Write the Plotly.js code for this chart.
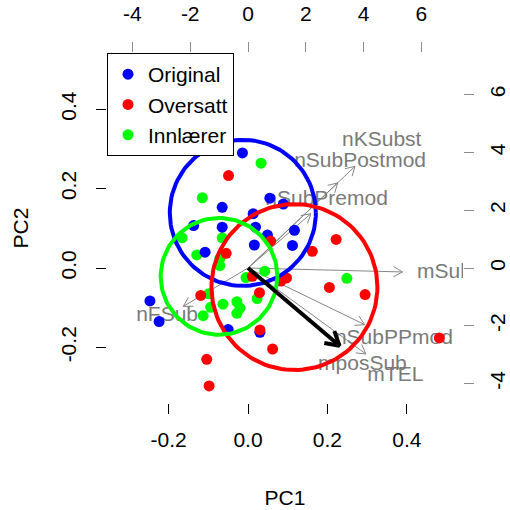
<!DOCTYPE html>
<html><head><meta charset="utf-8">
<script src="https://cdn.plot.ly/plotly-3.0.1.min.js"></script>
<style>html,body{margin:0;padding:0;background:#fff}#plot{width:510px;height:510px}</style>
</head><body><div id="plot"></div>
<script>
// PC scores per group
const origX = [-0.014,0.055,0.089,-0.065,0.013,-0.137,-0.065,0.019,0.117,0.049,0.016,0.112,-0.108,-0.247,-0.224,-0.050,0.030];
const origY = [0.290,0.176,0.161,0.153,0.137,0.107,0.103,0.103,0.095,0.083,0.058,0.057,0.040,-0.083,-0.135,-0.155,-0.162];
const overX = [-0.049,0.057,0.162,0.222,-0.055,0.011,0.083,0.097,0.205,0.295,0.029,-0.119,0.030,0.062,-0.104,-0.098,0.482];
const overY = [0.233,0.068,0.042,0.072,0.037,-0.021,-0.033,-0.025,-0.049,-0.067,-0.062,-0.069,-0.156,-0.204,-0.230,-0.297,-0.176];
const innX = [0.033,-0.115,-0.166,-0.065,-0.129,-0.071,-0.071,0.042,-0.005,0.249,-0.099,-0.094,-0.063,-0.028,-0.020,-0.028,0.023,-0.113];
const innY = [0.264,0.177,0.076,0.076,0.033,0.024,0.006,-0.008,-0.024,-0.026,-0.065,-0.099,-0.091,-0.085,-0.101,-0.114,-0.077,-0.120];

// group circles (PC units)
const circleNames = ['Original','Oversatt','Innlærer'];
const circleCX = [-0.013, 0.117, -0.073];
const circleCY = [0.139, -0.048, -0.021];
const circleR  = [0.184, 0.209, 0.147];

// variable loadings (top/right axis units)
const loadNames = ['nKSubst','nSubPostmod','nSubPremod','mSul','nSubPPmod','mposSub','mTEL','nFSub'];
const loadX = [4.63, 3.88, 2.72, 6.68, 5.05, 3.96, 5.10, -2.80];
const loadY = [4.40, 3.68, 2.35, -0.17, -2.45, -3.36, -3.72, -1.66];
const highlighted = 'mposSub';

// ticks
const pcTicks = [-0.2, 0, 0.2, 0.4];
const pcTickText = ['-0.2','0.0','0.2','0.4'];
const ldTicks = [-4, -2, 0, 2, 4, 6];
const ldTickText = ['-4','-2','0','2','4','6'];

const FONT = 'Liberation Sans, Arial, Helvetica, sans-serif';
const FS = 21;
const xr = [-0.3552, 0.5416];
const yr = [-0.3400, 0.5416];
const K = 13.74; // loading units per PC unit
const ARROW_FRAC = 0.8;

function arrowPath(x0,y0,x1,y1,hl){
  const a = Math.atan2(y1-y0, x1-x0);
  const d = Math.PI/6;
  return {
    x:[x0,x1,null, x1-hl*Math.cos(a-d), x1, x1-hl*Math.cos(a+d), null],
    y:[y0,y1,null, y1-hl*Math.sin(a-d), y1, y1-hl*Math.sin(a+d), null]
  };
}

const traces = [];
// gray loading arrows
let gx=[], gy=[];
for(let i=0;i<loadNames.length;i++){
  const p = arrowPath(0,0,ARROW_FRAC*loadX[i]/K, ARROW_FRAC*loadY[i]/K, 0.026);
  gx = gx.concat(p.x); gy = gy.concat(p.y);
}
traces.push({x:gx,y:gy,mode:'lines',line:{color:'#868686',width:1},showlegend:false,hoverinfo:'skip'});
traces.push({x:loadX.map(v=>v/K), y:loadY.map(v=>v/K), mode:'text', text:loadNames,
  textposition:'middle center', textfont:{family:FONT,size:FS,color:'#7a7a7a'}, cliponaxis:true,
  showlegend:false, hoverinfo:'skip'});

// points
traces.push({x:innX,y:innY,mode:'markers',name:'Innlærer',legendrank:3,marker:{color:'#00ff00',size:11},hoverinfo:'skip'});
traces.push({x:origX,y:origY,mode:'markers',name:'Original',legendrank:1,marker:{color:'#0000ff',size:11},hoverinfo:'skip'});
traces.push({x:overX,y:overY,mode:'markers',name:'Oversatt',legendrank:2,marker:{color:'#ff0000',size:11},hoverinfo:'skip'});

// circles
const circleCol = ['#0000ff','#ff0000','#00ff00'];
for(let c=0;c<circleNames.length;c++){
  const cx=[],cy=[];
  for(let k=0;k<=120;k++){const t=2*Math.PI*k/120; cx.push(circleCX[c]+circleR[c]*Math.cos(t)); cy.push(circleCY[c]+circleR[c]*Math.sin(t));}
  traces.push({x:cx,y:cy,mode:'lines',line:{color:circleCol[c],width:4},showlegend:false,hoverinfo:'skip'});
}

// black highlighted arrow
const hi = loadNames.indexOf(highlighted);
const bp = arrowPath(0,0,ARROW_FRAC*loadX[hi]/K, ARROW_FRAC*loadY[hi]/K, 0.039);
traces.push({x:bp.x,y:bp.y,mode:'lines',line:{color:'#000',width:4},showlegend:false,hoverinfo:'skip'});

// dummy trace to anchor the loading axes
traces.push({x:loadX,y:loadY,xaxis:'x2',yaxis:'y2',mode:'markers',marker:{opacity:0},showlegend:false,hoverinfo:'skip'});

const axBase = {showgrid:false,zeroline:false,showline:false,ticks:'outside',ticklen:10,tickwidth:1,
  tickfont:{family:FONT,size:FS,color:'#000'}};
const layout = {
  width:510,height:510,
  margin:{l:107,r:47,t:53,b:107},
  paper_bgcolor:'#fff',plot_bgcolor:'#fff',
  font:{family:FONT,size:FS,color:'#000'},
  showlegend:true,
  legend:{x:0,y:1,xanchor:'left',yanchor:'top',bgcolor:'#fff',bordercolor:'#000',borderwidth:1,
    font:{family:FONT,size:FS,color:'#000'},tracegroupgap:0},
  xaxis:Object.assign({},axBase,{range:xr,tickmode:'array',tickvals:pcTicks,ticktext:pcTickText,tickcolor:'#000',ticklabelstandoff:8,
    title:{text:'PC1',font:{family:FONT,size:FS},standoff:40}}),
  yaxis:Object.assign({},axBase,{range:yr,tickmode:'array',tickvals:pcTicks,ticktext:pcTickText,tickcolor:'#000',tickangle:-90,ticklabelstandoff:12,
    title:{text:'PC2',font:{family:FONT,size:FS},standoff:22}}),
  xaxis2:Object.assign({},axBase,{range:[xr[0]*K,xr[1]*K],overlaying:'x',side:'top',anchor:'y',tickmode:'array',tickvals:ldTicks,ticktext:ldTickText,tickcolor:'#8c8c8c',ticklabelstandoff:13}),
  yaxis2:Object.assign({},axBase,{range:[yr[0]*K,yr[1]*K],overlaying:'y',side:'right',anchor:'x',tickmode:'array',tickvals:ldTicks,ticktext:ldTickText,tickcolor:'#8c8c8c',tickangle:-90,ticklabelstandoff:6})
};
Plotly.newPlot('plot',traces,layout,{staticPlot:true,displayModeBar:false});
</script></body></html>
